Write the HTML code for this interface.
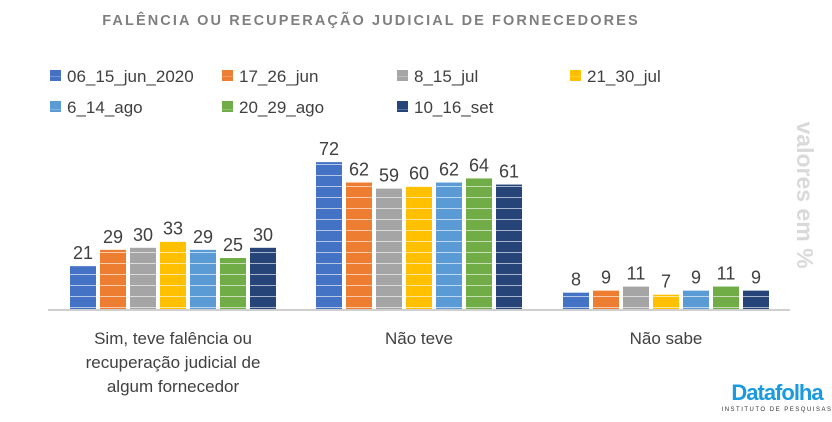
<!DOCTYPE html>
<html><head><meta charset="utf-8"><style>
body{margin:0;background:#fff;width:832px;height:422px;overflow:hidden;font-family:"Liberation Sans",sans-serif}
</style></head><body>
<svg id="chart" width="832" height="422" style="position:absolute;left:0;top:0">
<defs></defs>
<text x="371" y="25" text-anchor="middle" font-size="14.5" font-weight="bold" fill="#7f7f7f" letter-spacing="2.1">FALÊNCIA OU RECUPERAÇÃO JUDICIAL DE FORNECEDORES</text>
<text transform="translate(797,195) rotate(90)" text-anchor="middle" font-size="23" font-weight="bold" fill="#d9d9d9">valores em %</text>
<g id="legend"></g>
<g id="bars"></g>
<line x1="48" y1="310" x2="790" y2="310" stroke="#bfbfbf" stroke-width="1.5"/>
<g id="cats" font-size="17" fill="#404040" text-anchor="middle"></g>
<text x="777" y="400" text-anchor="middle" font-size="22" font-weight="bold" fill="#1a9be0" letter-spacing="-1">Datafolha</text>
<text x="777" y="411" text-anchor="middle" font-size="6" fill="#333" letter-spacing="1.5">INSTITUTO DE PESQUISAS</text>
</svg>
<script>
const categories=[["Sim, teve falência ou","recuperação judicial de","algum fornecedor"],["Não teve"],["Não sabe"]];
const seriesNames=["06_15_jun_2020","17_26_jun","8_15_jul","21_30_jul","6_14_ago","20_29_ago","10_16_set"];
const colors=["#4472c4","#ed7d31","#a5a5a5","#ffc000","#5b9bd5","#70ad47","#264478"];
const values=[
 [21,72,8],
 [29,62,9],
 [30,59,11],
 [33,60,7],
 [29,62,9],
 [25,64,11],
 [30,61,9]
];
const NS="http://www.w3.org/2000/svg";
const svg=document.getElementById('chart');
const defs=svg.querySelector('defs');
const base=309, scale=2.04;
const y=v=>base-v*scale;
const groupStart=[70,316,563], barStep=30, barW=26;
const groupCenter=[173,419,666];
colors.forEach((c,i)=>{
 const p=document.createElementNS(NS,'pattern');
 p.setAttribute('id','pat'+i);p.setAttribute('patternUnits','userSpaceOnUse');
 p.setAttribute('width','10');p.setAttribute('height','11');p.setAttribute('y',String(base));
 p.innerHTML=`<rect width="10" height="11" fill="${c}"/><rect y="9" width="10" height="1" fill="#fff" opacity="0.6"/>`;
 defs.appendChild(p);
});
const bars=document.getElementById('bars');
values.forEach((ser,si)=>{
 ser.forEach((v,ci)=>{
  const x=groupStart[ci]+si*barStep;
  const r=document.createElementNS(NS,'rect');
  r.setAttribute('x',x);r.setAttribute('y',y(v));r.setAttribute('width',barW);r.setAttribute('height',base-y(v));
  r.setAttribute('fill','url(#pat'+si+')');
  
  
  bars.appendChild(r);
  const t=document.createElementNS(NS,'text');
  t.setAttribute('x',x+barW/2);t.setAttribute('y',y(v)-7);
  t.setAttribute('text-anchor','middle');t.setAttribute('font-size','18');t.setAttribute('fill','#404040');
  t.textContent=v;
  
  
  bars.appendChild(t);
 });
});
const cats=document.getElementById('cats');
categories.forEach((lines,ci)=>{
 lines.forEach((l,li)=>{
  const t=document.createElementNS(NS,'text');
  t.setAttribute('x',groupCenter[ci]);t.setAttribute('y',344+li*24);
  t.textContent=l;
  
  
  cats.appendChild(t);
 });
});
const lg=document.getElementById('legend');
const lx=[50,222,397,570];
seriesNames.forEach((n,i)=>{
 const x=lx[i%4], yy=i<4?76:107;
 const g=document.createElementNS(NS,'g');
 
 
 g.innerHTML=`<rect x="${x}" y="${yy-6}" width="11" height="11" fill="url(#pat${i})"/><rect x="${x}" y="${yy-6}" width="11" height="11" fill="${colors[i]}" opacity="0.6"/><text x="${x+17}" y="${yy+6}" font-size="17" fill="#404040">${n}</text>`;
 lg.appendChild(g);
});
</script>
</body></html>
